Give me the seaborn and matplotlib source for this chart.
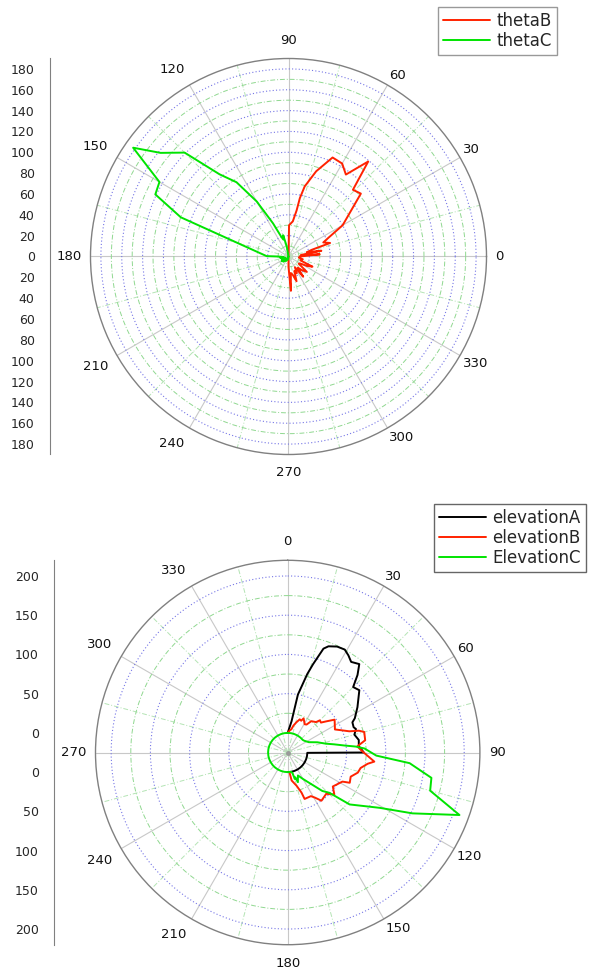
import numpy as np
import pandas as pd
import matplotlib
matplotlib.use("Agg")
import matplotlib.pyplot as plt
import matplotlib.transforms as mtransforms
from matplotlib.lines import Line2D
import seaborn as sns

sns.set_style("white")
plt.rcParams['font.family'] = ['DejaVu Sans']

# ---- top panel: azimuth (deg, counter-clockwise from east) ----
thetaB_deg = [0, 4, 7, 10, 13, 16, 18, 22, 25, 30, 41, 46, 50, 55, 60, 66, 72, 77, 79, 80, 83, 89, 95,
              265, 270, 274, 278, 283, 288, 292, 296, 301, 306, 310, 314, 320, 325, 329, 333, 337, 342,
              349, 354, 360]
thetaB_val = [11, 30, 12, 32, 18, 23, 42, 36, 42, 60, 92, 89, 119, 96, 103, 104, 86, 69, 57, 45, 34, 30, 0,
              0, 10, 33, 16, 18, 25, 15, 18, 12, 24, 14, 18, 23, 12, 13, 20, 25, 12,
              14, 10, 11]
thetaC_deg = [90, 100, 104, 107, 110, 115, 120, 125, 130, 135, 141, 145, 150, 155, 160, 179, 180, 185,
              190, 195, 200, 205, 210, 215, 220, 225, 230, 240, 250, 260, 270]
thetaC_val = [0, 10, 21, 17, 20, 35, 61, 87, 103, 141, 158, 182, 143, 141, 110, 21, 10, 5,
              8, 4, 7, 3, 6, 8, 4, 7, 3, 5, 2, 3, 0]

# ---- bottom panel: elevation (deg, clockwise from north) ----
elevA_deg = [0, 7, 10, 14, 16, 19, 21, 25, 29, 32, 35, 39, 42, 45, 49, 57, 63, 65, 69, 71, 75, 80, 85, 90,
             91, 100, 110, 120, 130, 140, 150, 160, 170, 180]
elevA_val = [0, 15, 50, 78, 92, 115, 120, 124, 125, 121, 116, 120, 108, 93, 96, 81, 71, 66, 65, 67, 63, 67, 66, 72,
             0, 0, 0, 0, 0, 0, 0, 0, 0, 0]
elevB_deg = [0, 5, 9, 12, 16, 20, 23, 25, 31, 34, 37, 43, 45, 48, 51, 55, 64, 67, 71, 73, 75, 81, 85, 89,
             96, 98, 102, 106, 111, 116, 118, 124, 127, 132, 137, 145, 149, 152, 160, 161, 165, 172, 175]
elevB_val = [0, 3, 5, 10, 15, 20, 19, 23, 17, 18, 25, 28, 33, 32, 38, 48, 42, 48, 58, 70, 76, 75, 64, 70,
             86, 78, 70, 68, 61, 63, 54, 49, 47, 55, 47, 50, 42, 38, 38, 29, 19, 11, 0]
elevC_deg = [0, 10, 20, 30, 40, 50, 55, 64, 71, 77, 80, 83, 85, 87, 92, 95, 100, 105, 110, 116, 121, 130,
             134, 138, 150, 156, 161, 163, 165, 167, 170, 180, 190, 200, 210, 220, 230, 240, 250, 260,
             270, 280, 290, 300, 310, 320, 330, 340, 350, 360]
elevC_val = [0, 0, 0, 0, 0, 0, 1, 5, 15, 25, 35, 48, 62, 73, 88, 131, 161, 163, 208, 152, 112, 78,
             49, 41, 14, 7, 15, 8, 10, 2, 0, 0, 0, 0, 0, 0, 0, 0, 0, 0,
             0, 0, 0, 0, 0, 0, 0, 0, 0, 0]

angle_labels = list(range(0, 360, 30))
top_ticks = [0, 20, 40, 60, 80, 100, 120, 140, 160, 180]
bottom_ticks = [0, 50, 100, 150, 200]

RED = '#ff2200'
GREEN = '#00e400'
BLACK = '#000000'
GRAY = '#808080'

W, H = 590, 972
fig = plt.figure(figsize=(W / 100, H / 100), dpi=100)


def polar_panel(cx, cy, R, rmin, rmax, major_rings, minor_rings, clockwise):
    ax = fig.add_axes([(cx - R) / W, (H - cy - R) / H, 2 * R / W, 2 * R / H], projection='polar')
    if clockwise:
        ax.set_theta_zero_location('N')
        ax.set_theta_direction(-1)
    ax.set_xticks(np.deg2rad(angle_labels))
    ax.set_xticks(np.deg2rad(np.arange(15, 360, 30)), minor=True)
    ax.set_yticks(major_rings)
    ax.set_yticks(minor_rings, minor=True)
    ax.xaxis.grid(True, which='major', color='#c8c8c8', lw=0.8, ls='-')
    ax.xaxis.grid(True, which='minor', color='#b4e4b4', lw=0.7, ls=(0, (5, 2, 1, 2)))
    ax.yaxis.grid(True, which='major', color='#7676e6', lw=0.8, ls=(0, (1, 2)))
    ax.yaxis.grid(True, which='minor', color='#90d890', lw=0.7, ls=(0, (5, 2, 1, 2)))
    ax.tick_params(labelbottom=False, labelleft=False)
    ax.tick_params(axis='x', which='major', length=0)
    ax.tick_params(axis='x', which='minor', length=4, direction='in', color=GRAY)
    ax.tick_params(axis='y', which='both', length=0)
    ax.spines['polar'].set_color(GRAY)
    ax.spines['polar'].set_linewidth(1.0)
    return ax


def finish_polar(ax, rmin, rmax, clockwise):
    ax.set_xlim(0, 2 * np.pi)
    ax.set_ylim(rmin, rmax)
    ax.set(xlabel='', ylabel='')
    for deg in angle_labels:
        phi = np.deg2rad(90 - deg if clockwise else deg)
        c, s = np.cos(phi), np.sin(phi)
        if abs(c) < 0.1:
            pad, ha, va = 12, 'center', ('bottom' if s > 0 else 'top')
        elif abs(s) < 0.1:
            pad, ha, va = 9, ('left' if c > 0 else 'right'), 'center'
        else:
            pad = 3 if c > 0 else 10
            ha = 'left' if c > 0 else 'right'
            va = 'bottom' if s > 0 else 'top'
        tr = mtransforms.offset_copy(ax.transData, fig=fig, x=pad * c, y=pad * s, units='dots')
        ax.text(np.deg2rad(deg), rmax, str(deg), transform=tr, ha=ha, va=va,
                fontsize=9.5, color='#111111', clip_on=False)


def draw_series(ax, deg, val, color):
    df = pd.DataFrame({'theta': np.deg2rad(deg), 'r': val})
    sns.lineplot(data=df, x='theta', y='r', ax=ax, sort=False, estimator=None,
                 color=color, lw=1.4, legend=False)


def radial_axis(x_px, cy, R, span, pos, labels, minor):
    lax = fig.add_axes([x_px / W, (H - cy - R) / H, 1 / W, 2 * R / H])
    lax.patch.set_visible(False)
    for side in ['top', 'right', 'bottom']:
        lax.spines[side].set_visible(False)
    lax.spines['left'].set_color(GRAY)
    lax.set_ylim(-span, span)
    lax.set_xticks([])
    lax.set_yticks(pos)
    lax.set_yticklabels(labels)
    lax.set_yticks(minor, minor=True)
    lax.tick_params(axis='y', which='major', length=7, color=GRAY, labelsize=9, pad=4, direction='out')
    lax.tick_params(axis='y', which='minor', length=4, color=GRAY, direction='out')
    return lax


# ---------- top chart ----------
TR = 198
ax1 = polar_panel(288.5, 256.5, TR, 0, 190, list(range(20, 181, 20)), list(range(10, 180, 20)), False)
draw_series(ax1, thetaB_deg, thetaB_val, RED)
draw_series(ax1, thetaC_deg, thetaC_val, GREEN)
finish_polar(ax1, 0, 190, False)

top_pos = sorted(set([-t for t in top_ticks] + top_ticks))
radial_axis(50, 256.5, TR, 190, top_pos, [str(abs(p)) for p in top_pos], list(range(-190, 191, 10)))

# ---------- bottom chart ----------
BR = 192.2
hole = 25
ax2 = polar_panel(287.7, 752.5, BR, -hole, 220, [50, 100, 150, 200], [25, 75, 125, 175], True)
draw_series(ax2, elevA_deg, elevA_val, BLACK)
draw_series(ax2, elevB_deg, elevB_val, RED)
draw_series(ax2, elevC_deg, elevC_val, GREEN)
ax2.plot([0], [-hole], marker='o', ms=2.5, color='#999999')
finish_polar(ax2, -hole, 220, True)

bot_pos = [-(t + hole) for t in bottom_ticks[::-1]] + [t + hole for t in bottom_ticks]
bot_lab = [str(t) for t in bottom_ticks[::-1]] + [str(t) for t in bottom_ticks]
bot_minor = [hole + 12.5 * k for k in range(18)]
radial_axis(54.3, 752.5, BR, 220 + hole, bot_pos, bot_lab, [-m for m in bot_minor] + bot_minor)

# ---------- legends ----------
leg_kw = dict(loc='upper right', frameon=True, fancybox=False, fontsize=12, handlelength=2.8,
              handletextpad=0.4, borderpad=0.3, labelspacing=0.13, borderaxespad=0)
h1 = [Line2D([], [], color=RED, lw=1.4), Line2D([], [], color=GREEN, lw=1.4)]
l1 = fig.legend(h1, ['thetaB', 'thetaC'], bbox_to_anchor=(557 / W, 1 - 7 / H), **leg_kw)
l1.get_frame().set_edgecolor(GRAY)
l1.get_frame().set_linewidth(1.0)

h2 = [Line2D([], [], color=BLACK, lw=1.4), Line2D([], [], color=RED, lw=1.4),
      Line2D([], [], color=GREEN, lw=1.4)]
l2 = fig.legend(h2, ['elevationA', 'elevationB', 'ElevationC'], bbox_to_anchor=(586 / W, 1 - 504 / H), **leg_kw)
l2.get_frame().set_edgecolor('#404040')
l2.get_frame().set_linewidth(1.0)

fig.savefig('out.png', dpi=100, facecolor='white')
